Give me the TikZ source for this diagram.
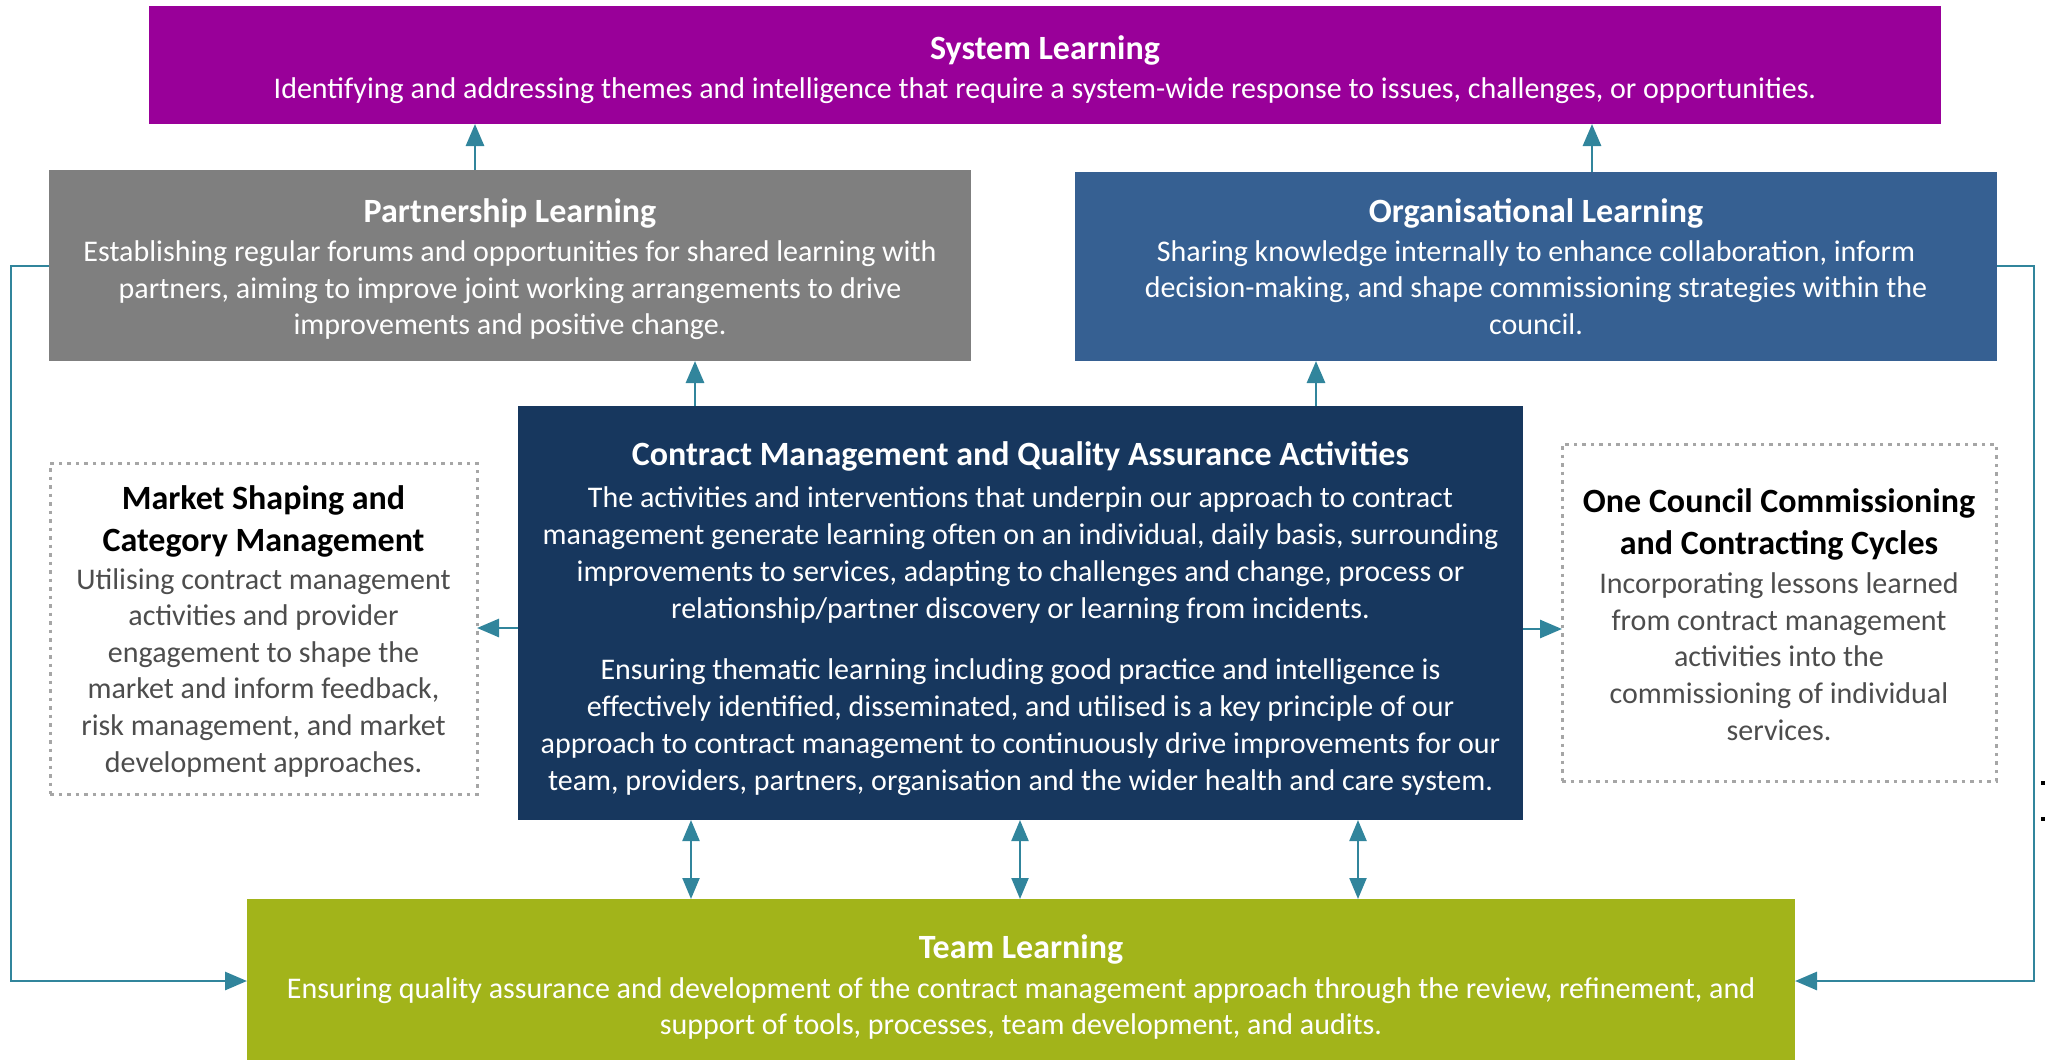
\documentclass[tikz,border=0pt]{standalone}
\usepackage{fontspec}
\setmainfont{Carlito}
\usetikzlibrary{arrows.meta}
\definecolor{purp}{HTML}{990099}
\definecolor{pgray}{HTML}{7F7F7F}
\definecolor{oblue}{HTML}{366092}
\definecolor{navy}{HTML}{17375E}
\definecolor{olive}{HTML}{A2B41A}
\definecolor{tealc}{HTML}{31859C}
\definecolor{dotc}{HTML}{A6A6A6}
\definecolor{bodyg}{HTML}{4D4D4D}
\newcommand{\boxtitle}[1]{{\fontsize{34}{36.6}\selectfont\bfseries #1}}
\begin{document}
\begin{tikzpicture}[x=1pt,y=-1pt,
  box/.style={rectangle, inner sep=0pt, outer sep=0pt, draw=none},
  dotbox/.style={rectangle, inner sep=0pt, outer sep=0pt, fill=white, draw=dotc, line width=3pt, dash pattern=on 3.5pt off 5pt},
  txt/.style={align=center, inner sep=0pt, font=\fontsize{30}{36.6}\selectfont},
  arr/.style={draw=tealc, line width=2.8pt, line join=miter, -{Triangle[length=22pt,width=18pt]}},
  arrb/.style={draw=tealc, line width=2.2pt, {Triangle[length=21pt,width=17pt]}-{Triangle[length=21pt,width=17pt]}}]
\useasboundingbox (0,0) rectangle (2045,1060);

% boxes
\node[box, fill=purp, minimum width=1792pt, minimum height=118pt] (sys) at (1045,65) {};
\node[box, fill=pgray, minimum width=922pt, minimum height=191pt] (part) at (510,265.5) {};
\node[box, fill=oblue, minimum width=922pt, minimum height=189pt] (org) at (1536,266.5) {};
\node[box, fill=navy, minimum width=1005pt, minimum height=414pt] (center) at (1020.5,613) {};
\node[dotbox, minimum width=427pt, minimum height=331pt] (market) at (263.5,628.5) {};
\node[dotbox, minimum width=434pt, minimum height=337pt] (oc) at (1779,612.5) {};
\node[box, fill=olive, minimum width=1548pt, minimum height=161pt] (team) at (1021,979.5) {};

% texts
\node[txt, text=white] (sysT) at (1045,69.5) {\boxtitle{System Learning}\\[2.4pt]
Identifying and addressing themes and intelligence that require a system-wide response to issues, challenges, or opportunities.};
\node[txt, text=white] (partT) at (510,269.5) {\boxtitle{Partnership Learning}\\[2.4pt]
Establishing regular forums and opportunities for shared learning with\\
partners, aiming to improve joint working arrangements to drive\\
improvements and positive change.};
\node[txt, text=white] (orgT) at (1536,266.5) {\boxtitle{Organisational Learning}\\[2.4pt]
Sharing knowledge internally to enhance collaboration, inform\\
decision-making, and shape commissioning strategies within the\\
council.};
\node[txt, text=white] (centerT) at (1020.5,618.5) {\boxtitle{Contract Management and Quality Assurance Activities}\\[6pt]
The activities and interventions that underpin our approach to contract\\[0.3pt]
management generate learning often on an individual, daily basis, surrounding\\[0.3pt]
improvements to services, adapting to challenges and change, process or\\[0.3pt]
relationship/partner discovery or learning from incidents.\\[24.4pt]
Ensuring thematic learning including good practice and intelligence is\\[0.3pt]
effectively identified, disseminated, and utilised is a key principle of our\\[0.3pt]
approach to contract management to continuously drive improvements for our\\[0.3pt]
team, providers, partners, organisation and the wider health and care system.};
\node[txt, text=bodyg] (marketT) at (263.5,631) {{\color{black}\boxtitle{Market Shaping and}}\\[5.4pt]
{\color{black}\boxtitle{Category Management}}\\[1.4pt]
Utilising contract management\\
activities and provider\\
engagement to shape the\\
market and inform feedback,\\
risk management, and market\\
development approaches.};
\node[txt, text=bodyg] (ocT) at (1779,614.5) {{\color{black}\boxtitle{One Council Commissioning}}\\[5.4pt]
{\color{black}\boxtitle{and Contracting Cycles}}\\[2.4pt]
Incorporating lessons learned\\
from contract management\\
activities into the\\
commissioning of individual\\
services.};
\node[txt, text=white] (teamT) at (1021,987) {\boxtitle{Team Learning}\\[3.4pt]
Ensuring quality assurance and development of the contract management approach through the review, refinement, and\\
support of tools, processes, team development, and audits.};

% helper coordinates
\coordinate (xa) at (475,0);
\coordinate (xb) at (1592,0);
\coordinate (xc) at (695,0);
\coordinate (xd) at (1316,0);
\coordinate (xe) at (691,0);
\coordinate (xf) at (1020,0);
\coordinate (xg) at (1358,0);
\coordinate (ym) at (0,628);
\coordinate (yo) at (0,629);
\coordinate (lp1) at (11,266);
\coordinate (lp2) at (11,981);
\coordinate (rp1) at (2034,266);
\coordinate (rp2) at (2034,981);

% connectors
\draw[arr] (part.north -| xa) -- (sys.south -| xa);
\draw[arr] (org.north -| xb) -- (sys.south -| xb);
\draw[arr] (center.north -| xc) -- (part.south -| xc);
\draw[arr] (center.north -| xd) -- (org.south -| xd);
\draw[arr] (center.west |- ym) -- (market.east |- ym);
\draw[arr] (center.east |- yo) -- (oc.west |- yo);
\draw[arrb] (center.south -| xe) -- (team.north -| xe);
\draw[arrb] (center.south -| xf) -- (team.north -| xf);
\draw[arrb] (center.south -| xg) -- (team.north -| xg);
\draw[arr] (part.west |- lp1) -- (lp1) -- (lp2) -- (team.west |- lp2);
\draw[arr] (org.east |- rp1) -- (rp1) -- (rp2) -- (team.east |- rp2);

% edge marks
\fill[black] (2041,781) rectangle (2045,785);
\fill[black] (2041,817) rectangle (2045,821);
\end{tikzpicture}
\end{document}
